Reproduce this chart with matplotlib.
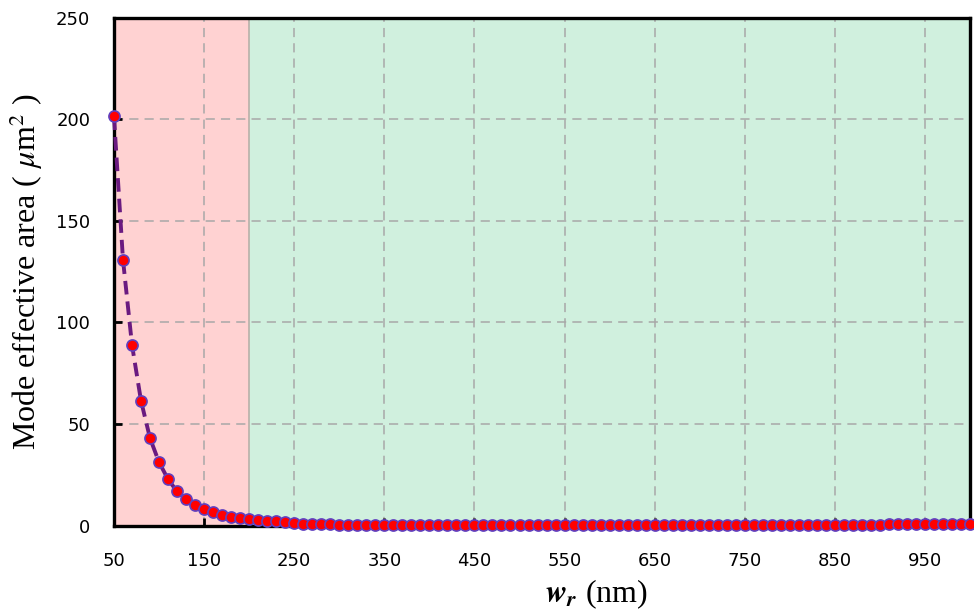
import matplotlib
matplotlib.use("Agg")
import matplotlib.pyplot as plt
import numpy as np

plt.rcParams["mathtext.fontset"] = "stix"

# Data
wr_nm = list(range(50, 1001, 10))
area_um2 = ([201.5, 131.0, 89.0, 61.5, 43.0, 31.2, 22.8, 16.8, 13.0, 10.0,
             8.0, 6.5, 5.3, 4.2, 3.5, 3.0, 2.5, 2.0, 2.0, 1.55, 1.4,
             0.6, 0.6, 0.6, 0.6, 0.5]
            + [0.05] * 60
            + [0.8] * 10)
x_ticks = [50, 150, 250, 350, 450, 550, 650, 750, 850, 950]
y_ticks = [0, 50, 100, 150, 200, 250]
region_split = 200

fig = plt.figure(figsize=(9.74, 6.13), dpi=100)
ax = fig.add_axes([0.117, 0.1427, 0.879, 0.828])

ax.axvspan(50, region_split, color="#FFD2D2", zorder=0, lw=0)
ax.axvspan(region_split, 1000, color="#D0F0DE", zorder=0, lw=0)
ax.axvline(region_split, color="#B8B0A8", lw=1.2, zorder=1)

ax.grid(True, color="#A8A8A8", linestyle=(0, (6, 4)), linewidth=1.1, zorder=1)
ax.set_axisbelow(False)

ax.plot(wr_nm, area_um2, linestyle=(0, (3.5, 1.8)), color="#6A1A80", lw=2.8,
        marker="o", markersize=8, markerfacecolor="#FF0000",
        markeredgecolor="#6040C0", markeredgewidth=1.2, zorder=5, clip_on=False)

ax.set_xlim(50, 1000)
ax.set_ylim(0, 250)
ax.set_xticks(x_ticks)
ax.set_yticks(y_ticks)
ax.tick_params(direction="in", length=6, width=2, labelsize=13,
               colors="black")
ax.tick_params(axis="x", pad=19)
ax.tick_params(axis="y", pad=17)
for lab in ax.get_xticklabels() + ax.get_yticklabels():
    lab.set_family(["DejaVu Sans"])
for s in ax.spines.values():
    s.set_linewidth(2.4)
    s.set_color("black")
    s.set_zorder(4)

ax.set_xlabel(r"$\mathbfit{w_r}$ (nm)", family="Liberation Serif", fontsize=23)
ax.xaxis.set_label_coords(0.564, -0.102)
ax.set_ylabel(r"Mode effective area ( $\mathit{\mu}$m$^2$ )", family="Liberation Serif",
              fontsize=23)
ax.yaxis.set_label_coords(-0.081, 0.5)

fig.savefig("out.png", dpi=100)
